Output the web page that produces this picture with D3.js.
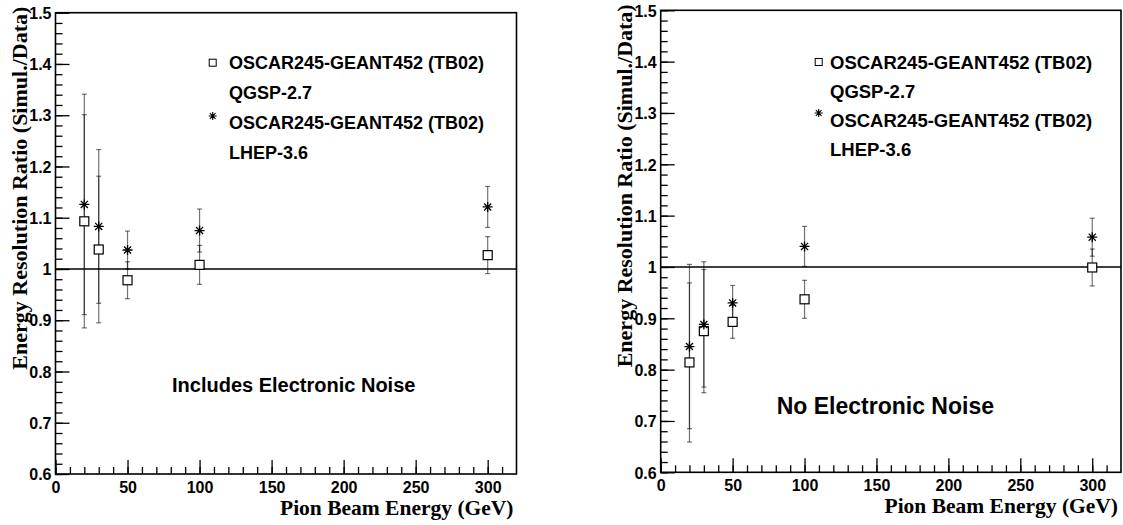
<!DOCTYPE html>
<html>
<head>
<meta charset="utf-8">
<script src="https://cdn.jsdelivr.net/npm/d3@7"></script>
<style>
  body { margin: 0; background: #fff; }
  svg { display: block; }
</style>
</head>
<body>
<svg id="main" width="1123" height="525"></svg>
<script>
// beam energies (GeV)
const energies = [20, 30, 50, 100, 300];

// left panel: includes electronic noise
const noiseQgsp = [1.093, 1.038, 0.978, 1.008, 1.027];
const noiseQgspErr = [0.208, 0.143, 0.036, 0.038, 0.036];
const noiseLhep = [1.126, 1.083, 1.037, 1.075, 1.121];
const noiseLhepErr = [0.215, 0.150, 0.037, 0.042, 0.040];

// right panel: no electronic noise
const cleanQgsp = [0.814, 0.875, 0.893, 0.937, 0.999];
const cleanQgspErr = [0.155, 0.120, 0.032, 0.037, 0.036];
const cleanLhep = [0.845, 0.888, 0.930, 1.040, 1.058];
const cleanLhepErr = [0.160, 0.122, 0.034, 0.039, 0.037];

const xTicks = [0, 50, 100, 150, 200, 250, 300];
const xMinor = d3.range(0, 320, 10);
const yTicks = [0.6, 0.7, 0.8, 0.9, 1.0, 1.1, 1.2, 1.3, 1.4, 1.5];
const yMinor = d3.range(0.6, 1.5001, 0.02);

const legendLines = ["OSCAR245-GEANT452 (TB02)", "QGSP-2.7", "OSCAR245-GEANT452 (TB02)", "LHEP-3.6"];
const xTitle = "Pion Beam Energy (GeV)";
const yTitle = "Energy Resolution Ratio (Simul./Data)";

const svg = d3.select("svg#main");
const sans = "'Liberation Sans', Arial, sans-serif";
const serif = "'Liberation Serif', 'Times New Roman', serif";

function starPath(cx, cy, r) {
    const d = r * 0.7071;
    return `M${cx-r},${cy}H${cx+r}M${cx},${cy-r}V${cy+r}` +
        `M${cx-d},${cy-d}L${cx+d},${cy+d}M${cx-d},${cy+d}L${cx+d},${cy-d}`;
}

function labelStyle(axisG) {
    axisG.attr("font-family", sans).attr("font-size", 16).attr("font-weight", "bold");
    axisG.selectAll(".tick text")
        .attr("font-family", sans).attr("font-size", 16).attr("font-weight", "bold")
        .attr("fill", "#000");
}

function drawPanel(p) {
    const x = d3.scaleLinear().domain([0, 320]).range([p.left, p.right]);
    const y = d3.scaleLinear().domain([0.6, 1.5]).range([p.bottom, p.top]);
    const g = svg.append("g");

    // minor ticks
    g.append("g")
        .attr("transform", `translate(0,${p.bottom})`)
        .call(d3.axisBottom(x).tickValues(xMinor).tickSize(-7).tickSizeOuter(0).tickFormat(""));
    g.append("g")
        .attr("transform", `translate(${p.left},0)`)
        .call(d3.axisLeft(y).tickValues(yMinor).tickSize(-7).tickSizeOuter(0).tickFormat(""));

    // major ticks + labels
    const xa = g.append("g")
        .attr("transform", `translate(0,${p.bottom})`)
        .call(d3.axisBottom(x).tickValues(xTicks).tickSize(-14).tickSizeOuter(0).tickPadding(0)
            .tickFormat(d3.format("d")));
    xa.selectAll(".tick text").attr("y", 18.5).attr("dy", 0);
    labelStyle(xa);
    const ya = g.append("g")
        .attr("transform", `translate(${p.left},0)`)
        .call(d3.axisLeft(y).tickValues(yTicks).tickSize(-14).tickSizeOuter(0).tickPadding(4)
            .tickFormat(d => d === 1 ? "1" : d3.format(".1f")(d)));
    ya.selectAll(".tick text").attr("dy", "0.36em");
    labelStyle(ya);
    g.selectAll(".domain").remove();
    g.selectAll(".tick line").attr("stroke", "#000").attr("stroke-width", 1.3);

    // frame
    g.append("rect")
        .attr("x", p.left).attr("y", p.top)
        .attr("width", p.right - p.left).attr("height", p.bottom - p.top)
        .attr("fill", "none").attr("stroke", "#000").attr("stroke-width", 1.6);

    // reference line at 1
    g.append("line")
        .attr("x1", p.left).attr("x2", p.right)
        .attr("y1", y(1)).attr("y2", y(1))
        .attr("stroke", "#000").attr("stroke-width", 1.6);

    // error bars
    const series = [
        {v: p.qgsp, e: p.qgspErr},
        {v: p.lhep, e: p.lhepErr}
    ];
    series.forEach(s => {
        const pts = energies.map((en, i) => ({x: en, v: s.v[i], e: s.e[i]}));
        const eb = g.append("g").attr("stroke", "#000").attr("stroke-opacity", 0.55).attr("stroke-width", 1.2);
        eb.selectAll(".bar").data(pts).enter().append("line")
            .attr("x1", d => x(d.x)).attr("x2", d => x(d.x))
            .attr("y1", d => y(d.v - d.e)).attr("y2", d => y(d.v + d.e));
        eb.selectAll(".capt").data(pts).enter().append("line")
            .attr("x1", d => x(d.x) - 2.5).attr("x2", d => x(d.x) + 2.5)
            .attr("y1", d => y(d.v + d.e)).attr("y2", d => y(d.v + d.e));
        eb.selectAll(".capb").data(pts).enter().append("line")
            .attr("x1", d => x(d.x) - 2.5).attr("x2", d => x(d.x) + 2.5)
            .attr("y1", d => y(d.v - d.e)).attr("y2", d => y(d.v - d.e));
    });

    // markers
    g.selectAll(".sq").data(energies.map((en, i) => [en, p.qgsp[i]])).enter().append("rect")
        .attr("x", d => x(d[0]) - 4.5).attr("y", d => y(d[1]) - 4.5)
        .attr("width", 9).attr("height", 9)
        .attr("fill", "#fff").attr("stroke", "#000").attr("stroke-width", 1.2);
    g.selectAll(".st").data(energies.map((en, i) => [en, p.lhep[i]])).enter().append("path")
        .attr("d", d => starPath(x(d[0]), y(d[1]), 5))
        .attr("fill", "none").attr("stroke", "#000").attr("stroke-width", 1.3);

    // legend
    g.append("rect")
        .attr("x", p.legX - 3.5).attr("y", p.legRows[0] - 3.5).attr("width", 7).attr("height", 7)
        .attr("fill", "#fff").attr("stroke", "#000").attr("stroke-width", 1);
    g.append("path")
        .attr("d", starPath(p.legX, p.legStarY, 4))
        .attr("fill", "none").attr("stroke", "#000").attr("stroke-width", 1.1);
    g.selectAll(".leg").data(legendLines).enter().append("text")
        .attr("x", p.legTextX)
        .attr("y", (d, i) => p.legRows[i])
        .attr("dy", "0.36em")
        .style("font-family", sans).style("font-weight", "bold").style("font-size", p.legFont + "px")
        .text(d => d);

    // panel note
    g.append("text")
        .attr("x", p.noteX).attr("y", p.noteY)
        .style("font-family", sans).style("font-weight", "bold").style("font-size", p.noteFont + "px")
        .text(p.note);

    // axis titles
    g.append("text")
        .attr("text-anchor", "end")
        .attr("x", p.right - 3).attr("y", p.bottom + 41)
        .style("font-family", serif).style("font-weight", "bold").style("font-size", "21.5px")
        .text(xTitle);
    g.append("text")
        .attr("text-anchor", "end")
        .attr("transform", `translate(${p.yTitleX},${p.top - 6}) rotate(-90)`)
        .style("font-family", serif).style("font-weight", "bold").style("font-size", "22px")
        .text(yTitle);
}

drawPanel({
    left: 55.5, right: 516.5, top: 12.7, bottom: 474,
    qgsp: noiseQgsp, qgspErr: noiseQgspErr, lhep: noiseLhep, lhepErr: noiseLhepErr,
    legX: 212.7, legStarY: 116, legTextX: 229, legRows: [62.7, 92.7, 122.7, 152.7], legFont: 18,
    note: "Includes Electronic Noise", noteX: 172, noteY: 392, noteFont: 20,
    yTitleX: 27
});

drawPanel({
    left: 660.7, right: 1121, top: 10.3, bottom: 472.3,
    qgsp: cleanQgsp, qgspErr: cleanQgspErr, lhep: cleanLhep, lhepErr: cleanLhepErr,
    legX: 818.7, legStarY: 113, legTextX: 830, legRows: [62, 91, 120, 149], legFont: 18.5,
    note: "No Electronic Noise", noteX: 776.7, noteY: 414, noteFont: 23,
    yTitleX: 632
});
</script>
</body>
</html>
